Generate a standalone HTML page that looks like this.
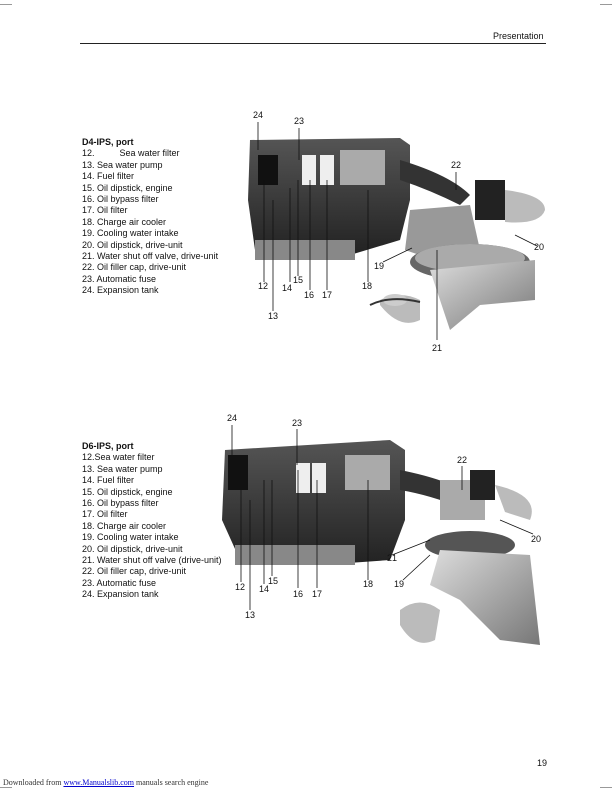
<!DOCTYPE html>
<html><head><style>
body{margin:0;width:612px;height:792px;background:#fff;position:relative;font-family:"Liberation Sans",sans-serif;overflow:hidden}
.t{position:absolute;font-size:9px;color:#111;line-height:11.4px}
.l{position:absolute;font-size:9px;color:#111}
</style></head><body>
<div style="position:absolute;left:0;top:4px;width:12px;border-top:1px solid #999"></div>
<div style="position:absolute;right:0;top:4px;width:12px;border-top:1px solid #999"></div>
<div style="position:absolute;left:0;bottom:4px;width:12px;border-top:1px solid #999"></div>
<div style="position:absolute;right:0;bottom:4px;width:12px;border-top:1px solid #999"></div>
<div class="l" style="left:493px;top:31px">Presentation</div>
<div style="position:absolute;left:80px;top:43px;width:466px;border-top:1px solid #222"></div>

<div class="t" style="left:82px;top:137px"><b>D4-IPS, port</b><br>12.&nbsp;&nbsp;&nbsp;&nbsp;&nbsp;&nbsp;&nbsp;&nbsp;&nbsp;&nbsp;Sea water filter<br>13. Sea water pump<br>14. Fuel filter<br>15. Oil dipstick, engine<br>16. Oil bypass filter<br>17. Oil filter<br>18. Charge air cooler<br>19. Cooling water intake<br>20. Oil dipstick, drive-unit<br>21. Water shut off valve, drive-unit<br>22. Oil filler cap, drive-unit<br>23. Automatic fuse<br>24. Expansion tank</div>

<div class="t" style="left:82px;top:441px"><b>D6-IPS, port</b><br>12.Sea water filter<br>13. Sea water pump<br>14. Fuel filter<br>15. Oil dipstick, engine<br>16. Oil bypass filter<br>17. Oil filter<br>18. Charge air cooler<br>19. Cooling water intake<br>20. Oil dipstick, drive-unit<br>21. Water shut off valve (drive-unit)<br>22. Oil filler cap, drive-unit<br>23. Automatic fuse<br>24. Expansion tank</div>

<svg width="612" height="792" style="position:absolute;left:0;top:0">
<defs>
<linearGradient id="g" x1="0" y1="0" x2="0" y2="1"><stop offset="0" stop-color="#555"/><stop offset="1" stop-color="#222"/></linearGradient>
<linearGradient id="m" x1="0" y1="0" x2="1" y2="1"><stop offset="0" stop-color="#ddd"/><stop offset="1" stop-color="#777"/></linearGradient>
</defs>
<!-- engine 1 -->
<g>
<path d="M250 140 L400 138 L410 145 L410 200 L400 240 L350 255 L290 255 L255 250 L248 200Z" fill="url(#g)"/>
<rect x="255" y="240" width="100" height="20" fill="#888"/>
<path d="M400 160 Q450 175 470 195 L460 205 Q430 190 400 180Z" fill="#333"/>
<path d="M410 210 L470 205 L480 250 L440 262 L405 250Z" fill="#999"/>
<rect x="475" y="180" width="30" height="40" fill="#222"/>
<path d="M505 190 Q545 195 545 210 Q540 225 505 222Z" fill="#bbb"/>
<ellipse cx="470" cy="262" rx="60" ry="18" fill="#666"/>
<ellipse cx="470" cy="258" rx="55" ry="14" fill="#aaa"/>
<path d="M430 270 L535 260 L535 300 L480 305 L450 330 L440 300Z" fill="url(#m)"/>
<path d="M380 300 Q400 290 420 300 L420 320 Q400 330 380 305Z" fill="#bbb"/>
<ellipse cx="395" cy="300" rx="12" ry="6" fill="#ccc"/>
<path d="M370 305 Q390 295 420 302" stroke="#333" stroke-width="2" fill="none"/>
<rect x="302" y="155" width="14" height="30" fill="#eee"/>
<rect x="320" y="155" width="14" height="30" fill="#eee"/>
<rect x="340" y="150" width="45" height="35" fill="#aaa"/>
<rect x="258" y="155" width="20" height="30" fill="#111"/>
</g>
<!-- engine 2 -->
<g>
<path d="M225 450 L390 440 L405 450 L405 520 L390 560 L320 565 L240 560 L222 520Z" fill="url(#g)"/>
<rect x="235" y="545" width="120" height="20" fill="#888"/>
<path d="M400 470 Q450 480 470 495 L462 508 Q430 495 400 490Z" fill="#333"/>
<rect x="440" y="480" width="45" height="40" fill="#aaa"/>
<rect x="470" y="470" width="25" height="30" fill="#222"/>
<path d="M495 485 Q540 495 530 520 L505 512Z" fill="#bbb"/>
<ellipse cx="470" cy="545" rx="45" ry="14" fill="#555"/>
<path d="M440 550 L530 555 L540 645 L500 640 L460 600 L430 585Z" fill="url(#m)"/>
<path d="M400 610 Q420 595 440 610 L435 640 Q415 650 400 625Z" fill="#bbb"/>
<rect x="296" y="463" width="14" height="30" fill="#eee"/>
<rect x="312" y="463" width="14" height="30" fill="#eee"/>
<rect x="345" y="455" width="45" height="35" fill="#aaa"/>
<rect x="228" y="455" width="20" height="35" fill="#111"/>
</g>
<g stroke="#111" stroke-width="0.8" fill="none">
<path d="M258 122V150M299 128V160M456 172V190M537 246L515 235M383 262L412 248M368 282V190M264 282V180M290 282V188M298 276V180M310 290V180M327 290V180M273 311V200M437 340V250"/>
<path d="M232 425V455M297 429V465M462 466V490M533 534L500 520M403 580L430 555M392 555L430 540M368 580V480M241 582V490M264 584V480M272 576V480M298 588V470M317 588V480M250 610V500"/>
</g>
</svg>
<div class="l" style="left:253px;top:110px">24</div>
<div class="l" style="left:294px;top:116px">23</div>
<div class="l" style="left:451px;top:160px">22</div>
<div class="l" style="left:534px;top:242px">20</div>
<div class="l" style="left:374px;top:261px">19</div>
<div class="l" style="left:362px;top:281px">18</div>
<div class="l" style="left:258px;top:281px">12</div>
<div class="l" style="left:282px;top:283px">14</div>
<div class="l" style="left:293px;top:275px">15</div>
<div class="l" style="left:304px;top:290px">16</div>
<div class="l" style="left:322px;top:290px">17</div>
<div class="l" style="left:268px;top:311px">13</div>
<div class="l" style="left:432px;top:343px">21</div>

<div class="l" style="left:227px;top:413px">24</div>
<div class="l" style="left:292px;top:418px">23</div>
<div class="l" style="left:457px;top:455px">22</div>
<div class="l" style="left:531px;top:534px">20</div>
<div class="l" style="left:387px;top:553px">21</div>
<div class="l" style="left:394px;top:579px">19</div>
<div class="l" style="left:363px;top:579px">18</div>
<div class="l" style="left:235px;top:582px">12</div>
<div class="l" style="left:259px;top:584px">14</div>
<div class="l" style="left:268px;top:576px">15</div>
<div class="l" style="left:293px;top:589px">16</div>
<div class="l" style="left:312px;top:589px">17</div>
<div class="l" style="left:245px;top:610px">13</div>

<div class="l" style="left:537px;top:758px">19</div>
<div style="position:absolute;left:3px;top:778px;font-family:'Liberation Serif',serif;font-size:8px;color:#333">Downloaded from <span style="color:#00c;text-decoration:underline">www.Manualslib.com</span> manuals search engine</div>
</body></html>
